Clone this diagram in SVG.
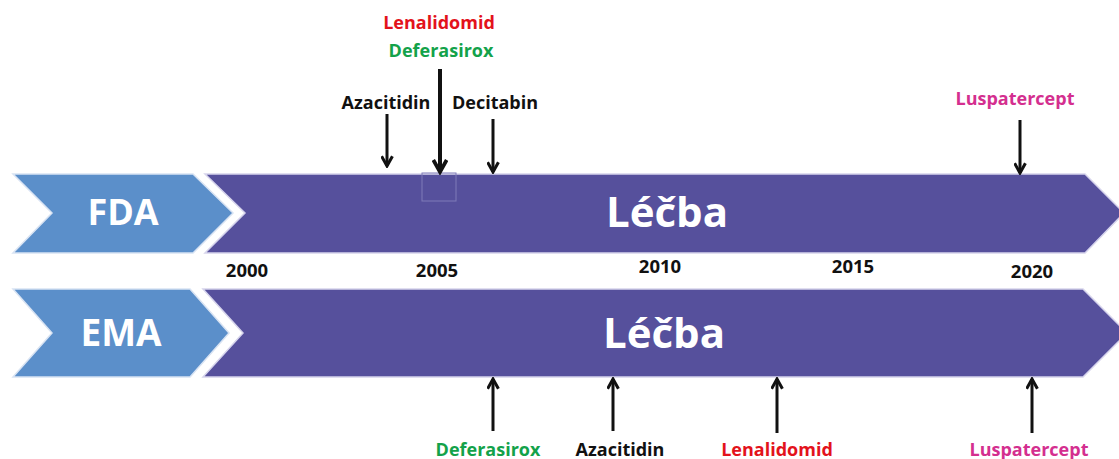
<svg xmlns="http://www.w3.org/2000/svg" width="1119" height="459" viewBox="0 0 1119 459">
<defs>
<style>
.chev{fill:#5b8fca;stroke:#d8e3f3;stroke-width:1.5}
.band{fill:#56509c;stroke:#d6d4ec;stroke-width:1.5}
.big{font-family:"Open Sans","Noto Sans",sans-serif;font-weight:bold;fill:#ffffff;text-anchor:middle}
.lbl{font-family:"Open Sans","Noto Sans",sans-serif;font-weight:bold;font-size:18px;text-anchor:middle}
.yr{font-family:"Open Sans","Noto Sans",sans-serif;font-weight:bold;font-size:18.5px;fill:#111111;text-anchor:middle}
.k{fill:#111111}.r{fill:#e3121b}.g{fill:#13a24a}.m{fill:#d42f8f}
.arr{stroke:#111111;stroke-width:3;fill:none;stroke-linecap:butt}
.thick{stroke-width:4}
</style>
<marker id="hd" viewBox="0 0 12 12" refX="10" refY="6" markerWidth="13" markerHeight="13" markerUnits="userSpaceOnUse" orient="auto">
<path d="M1,1 L10,6 L1,11" fill="none" stroke="#111111" stroke-width="2.8"/>
</marker>
<marker id="hdb" viewBox="0 0 12 12" refX="10" refY="6" markerWidth="16" markerHeight="16" markerUnits="userSpaceOnUse" orient="auto">
<path d="M1,1 L10,6 L1,11" fill="none" stroke="#111111" stroke-width="2.8"/>
</marker>
</defs>
<rect width="1119" height="459" fill="#ffffff"/>

<g id="fda-label">
<polygon class="chev" points="13,174 193,174 233,213 193,253 13,253 52,213"/>
<text class="big" x="123" y="225" font-size="36">FDA</text>
</g>
<g id="fda-band">
<polygon class="band" points="205,174 1085,174 1124,213 1085,253 205,253 245,213"/>
<rect x="422" y="173" width="34" height="28" fill="none" stroke="#7f7bb8" stroke-width="1"/>
<text class="big" x="667" y="227" font-size="42">Léčba</text>
</g>

<g id="ema-label">
<polygon class="chev" points="13,289 190,289 229,333 190,377 13,377 52,333"/>
<text class="big" x="121" y="346" font-size="37">EMA</text>
</g>
<g id="ema-band">
<polygon class="band" points="203,289 1083,289 1127,333 1083,377 203,377 243,333"/>
<text class="big" x="664" y="348" font-size="42">Léčba</text>
</g>

<g id="years">
<text class="yr" x="247" y="277">2000</text>
<text class="yr" x="437" y="277">2005</text>
<text class="yr" x="660" y="273">2010</text>
<text class="yr" x="853" y="273">2015</text>
<text class="yr" x="1032" y="278">2020</text>
</g>

<g id="fda-drugs">
<text class="lbl r" x="439" y="29">Lenalidomid</text>
<text class="lbl g" x="441" y="57">Deferasirox</text>
<text class="lbl k" x="386" y="109">Azacitidin</text>
<text class="lbl k" x="495" y="109">Decitabin</text>
<text class="lbl m" x="1015" y="105">Luspatercept</text>
</g>

<g id="ema-drugs">
<text class="lbl g" x="488" y="456">Deferasirox</text>
<text class="lbl k" x="620" y="456">Azacitidin</text>
<text class="lbl r" x="777" y="456">Lenalidomid</text>
<text class="lbl m" x="1029" y="456">Luspatercept</text>
</g>

<g id="connectors">
<line class="arr" x1="387" y1="114" x2="387" y2="166" marker-end="url(#hd)"/>
<line class="arr thick" x1="440" y1="69" x2="440" y2="172" marker-end="url(#hdb)"/>
<line class="arr" x1="493" y1="119" x2="493" y2="172" marker-end="url(#hd)"/>
<line class="arr" x1="1020" y1="120" x2="1020" y2="173" marker-end="url(#hd)"/>
<line class="arr" x1="493" y1="431" x2="493" y2="379" marker-end="url(#hd)"/>
<line class="arr" x1="613" y1="431" x2="613" y2="379" marker-end="url(#hd)"/>
<line class="arr" x1="777" y1="433" x2="777" y2="379" marker-end="url(#hd)"/>
<line class="arr" x1="1032" y1="433" x2="1032" y2="379" marker-end="url(#hd)"/>
</g>
</svg>
